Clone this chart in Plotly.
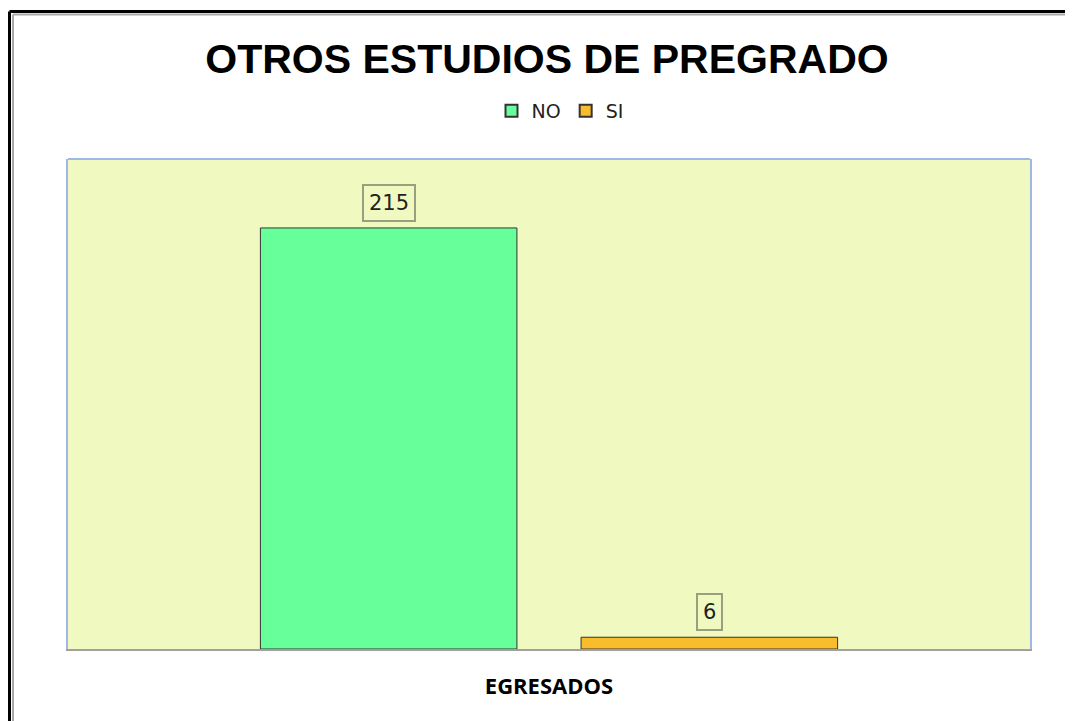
import plotly.graph_objects as go

categories = ["NO", "SI"]
values = [215, 6]
colors = ["#66ff99", "#f9bc2c"]
title_text = "OTROS ESTUDIOS DE PREGRADO"
x_title = "EGRESADOS"

OFF = 8  # page body margin
W, H = 1073 - OFF, 721 - OFF
ML, MT = 68 - OFF, 159 - OFF
MR = W - (1030 - OFF)
MB = H - (649 - OFF)
PW, PH = W - ML - MR, H - MT - MB

def px_x(p):
    # p is window pixel
    return (p - OFF - ML) / PW

def px_y(p):
    return (H - MB - (p - OFF)) / PH

fig = go.Figure()
for cat, val, col in zip(categories, values, colors):
    fig.add_trace(go.Bar(
        x=[cat], y=[val], name=cat, width=0.8,
        marker=dict(color=col, line=dict(color="#333333", width=1)),
        hoverinfo="x+y",
    ))
    fig.add_annotation(
        x=cat, y=val, text=str(val), showarrow=False,
        yanchor="bottom", yshift=6,
        font=dict(family="DejaVu Sans", size=21, color="#222222"),
        bordercolor="#9a9f80", borderwidth=2, borderpad=5,
        bgcolor="#f0fac0",
    )

shapes = [
    dict(type="line", xref="x domain", yref="y domain", x0=0, x1=1, y0=1, y1=1,
         line=dict(color="#a0b8e6", width=2)),
    dict(type="line", xref="paper", yref="paper", x0=px_x(9.5), x1=px_x(1080),
         y0=px_y(11.5), y1=px_y(11.5), line=dict(color="black", width=3)),
    dict(type="line", xref="paper", yref="paper", x0=px_x(9.5), x1=px_x(9.5),
         y0=px_y(11.5), y1=px_y(730), line=dict(color="black", width=3)),
    dict(type="line", xref="paper", yref="paper", x0=px_x(13), x1=px_x(1080),
         y0=px_y(14.5), y1=px_y(14.5), line=dict(color="#a8a8a8", width=2)),
    dict(type="line", xref="paper", yref="paper", x0=px_x(13), x1=px_x(13),
         y0=px_y(14.5), y1=px_y(730), line=dict(color="#a8a8a8", width=2)),
]

fig.update_layout(
    width=W, height=H,
    margin=dict(l=ML, r=MR, t=MT, b=MB),
    paper_bgcolor="white",
    plot_bgcolor="#f0fac0",
    barmode="overlay",
    title=dict(text="<b>" + title_text + "</b>", x=px_x(547), xanchor="center",
               xref="paper", y=1 - (59 - OFF) / H, yanchor="middle",
               font=dict(family="Liberation Sans", size=41, color="black")),
    legend=dict(orientation="h", x=px_x(560), xanchor="center",
                y=px_y(111), yanchor="middle",
                font=dict(family="DejaVu Sans", size=19, color="#222222"),
                itemsizing="constant", traceorder="normal"),
    xaxis=dict(range=[-1, 2], showticklabels=False, ticks="", showgrid=False,
               showline=True, linecolor="#a0a0a0", linewidth=2, zeroline=False,
               title=dict(text="<b>" + x_title + "</b>", standoff=29,
                          font=dict(family="Open Sans", size=22, color="black"))),
    yaxis=dict(range=[0, 250.2], showticklabels=False, ticks="", showgrid=False,
               showline=True, linecolor="#a0b8e6", linewidth=2, mirror=True,
               zeroline=False),
    shapes=shapes,
)

fig.write_html("out.html")
